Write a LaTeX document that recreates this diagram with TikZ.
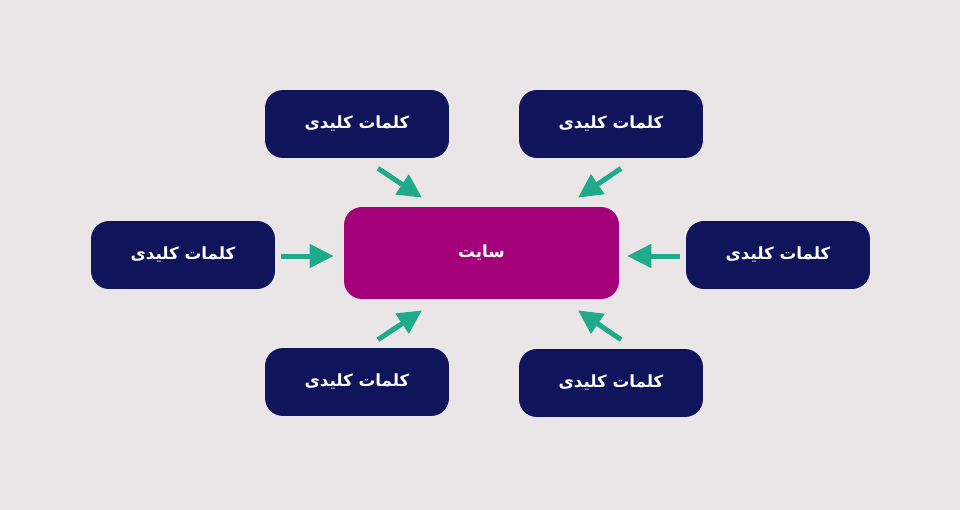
\documentclass[tikz,border=0pt]{standalone}
\usepackage{fontspec}
\usepackage{xcolor}
\usepackage{tikz}
\usetikzlibrary{shapes,arrows.meta,positioning}
\TeXXeTstate=1
\newfontfamily\farsifont[Script=Arabic]{DejaVu Sans}
\definecolor{bgcol}{HTML}{EAE6E7}
\definecolor{navy}{HTML}{10145A}
\definecolor{sitecol}{HTML}{A3007A}
\definecolor{arrowcol}{HTML}{1FAB89}
\tikzstyle{keyword} = [rectangle, rounded corners=0.36cm, fill=navy, text=white,
    minimum width=3.68cm, minimum height=1.36cm, font=\farsifont\bfseries\fontsize{9.5}{12}\selectfont]
\tikzstyle{site} = [rectangle, rounded corners=0.36cm, fill=sitecol, text=white,
    minimum width=5.5cm, minimum height=1.84cm, font=\farsifont\bfseries\fontsize{9.5}{12}\selectfont]
\tikzstyle{line} = [draw=arrowcol, line width=0.1cm, -{Triangle[length=0.48cm, width=0.46cm]}]

\begin{document}
\begin{tikzpicture}[x=0.02cm, y=-0.02cm]
    \fill [bgcol] (0,0) rectangle (960,510);
    \useasboundingbox (0,0) rectangle (960,510);

    % Place nodes
    \node [site] (site) at (481.5,253) {\beginR سایت\endR};
    \node [keyword] (kwtl) at (357,124) {\beginR کلمات کلیدی\endR};
    \node [keyword] (kwtr) at (611,124) {\beginR کلمات کلیدی\endR};
    \node [keyword] (kwl) at (183,255) {\beginR کلمات کلیدی\endR};
    \node [keyword] (kwr) at (778,255) {\beginR کلمات کلیدی\endR};
    \node [keyword] (kwbl) at (357,382) {\beginR کلمات کلیدی\endR};
    \node [keyword] (kwbr) at (611,383) {\beginR کلمات کلیدی\endR};

    % Arrow ends
    \coordinate (tlfrom) at ([shift={(21,10)}]kwtl.south);
    \coordinate (tlto) at ([shift={(-59.5,-9)}]site.north);
    \coordinate (trfrom) at ([shift={(10,10)}]kwtr.south);
    \coordinate (trto) at ([shift={(96.5,-9)}]site.north);
    \coordinate (lfrom) at ([shift={(6,1)}]kwl.east);
    \coordinate (lto) at ([shift={(-10,3)}]site.west);
    \coordinate (rfrom) at ([shift={(-6,1)}]kwr.west);
    \coordinate (rto) at ([shift={(8,3)}]site.east);
    \coordinate (blfrom) at ([shift={(21,-8)}]kwbl.north);
    \coordinate (blto) at ([shift={(-59.5,11)}]site.south);
    \coordinate (brfrom) at ([shift={(10,-9)}]kwbr.north);
    \coordinate (brto) at ([shift={(96.5,11)}]site.south);

    % Draw arrows
    \path [line] (tlfrom) -- (tlto);
    \path [line] (trfrom) -- (trto);
    \path [line] (lfrom) -- (lto);
    \path [line] (rfrom) -- (rto);
    \path [line] (blfrom) -- (blto);
    \path [line] (brfrom) -- (brto);

\end{tikzpicture}
\end{document}
